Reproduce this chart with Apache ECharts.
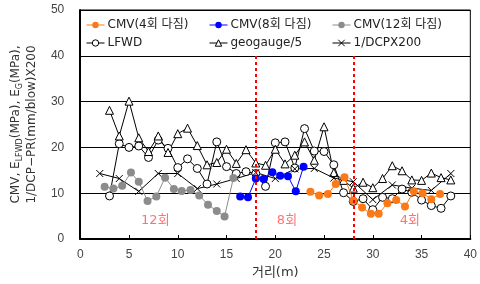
<!DOCTYPE html>
<html>
<head>
<meta charset="utf-8">
<script src="https://cdn.jsdelivr.net/npm/echarts@6/dist/echarts.min.js"></script>
<style>
  html, body { margin: 0; padding: 0; background: #fff; }
  #chart { width: 480px; height: 284px; }
</style>
</head>
<body>
<div id="chart"></div>
<script>
// values
var cmv12X = [2.5, 3.4, 4.3, 5.2, 6.0, 6.9, 7.8, 8.7, 9.6, 10.4, 11.3, 12.2, 13.1, 14.0, 14.8, 15.7];
var cmv12Y = [11.4, 11.0, 11.6, 14.5, 12.5, 8.3, 9.3, 13.4, 10.9, 10.5, 10.7, 9.5, 7.5, 6.1, 4.9, 13.3];

var cmv8X = [16.4, 17.2, 18.0, 18.8, 19.7, 20.5, 21.3, 22.1, 22.9];
var cmv8Y = [9.3, 9.1, 13.2, 13.1, 14.6, 13.8, 13.7, 10.4, 15.8];

var cmv4X = [23.6, 24.5, 25.4, 26.2, 27.1, 28.0, 28.9, 29.8, 30.6, 31.5, 32.4, 33.3, 34.2, 35.1, 36.0, 36.9];
var cmv4Y = [10.3, 9.5, 9.8, 12.0, 13.5, 8.4, 6.9, 5.5, 5.5, 7.8, 8.5, 7.1, 10.4, 10.0, 8.7, 9.8];

var lfwdX = [3, 4, 5, 6, 7, 8, 9, 10, 11, 12, 13, 14, 15, 16, 17, 18, 19, 20, 21, 22,
  23, 24, 25, 26, 27, 28, 29, 30, 31, 32, 33, 34, 35, 36, 37, 38];
var lfwdY = [9.4, 20.8, 20.0, 20.3, 17.8, 21.6, 19.8, 15.6, 17.5, 15.4, 12.0, 21.2, 15.8, 14.3, 14.7, 14.3, 11.5, 21.0, 21.2, 15.5,
  24.1, 19.2, 19.1, 16.2, 10.1, 8.2, 8.8, 6.4, 9.1, 8.8, 10.9, 10.2, 8.5, 7.3, 6.7, 9.4];

var geoX = lfwdX;
var geoY = [28.1, 22.5, 30.1, 22.1, 19.1, 22.5, 18.9, 23.0, 24.2, 20.4, 16.2, 16.7, 19.6, 16.5, 19.5, 16.6, 16.1, 19.6, 16.4, 18.3,
  21.2, 17.2, 24.5, 14.5, 12.8, 11.1, 12.4, 11.2, 13.2, 16.0, 14.9, 12.9, 12.8, 14.4, 13.4, 12.9];

var dcpX = [2, 4, 6, 8, 10, 12, 14, 16, 18, 20, 22, 24, 26, 28, 30, 32, 34, 36, 38];
var dcpY = [14.3, 13.2, 10.4, 14.3, 14.3, 11.0, 12.0, 13.2, 14.5, 13.2, 15.3, 15.4, 13.3, 12.5, 8.6, 11.8, 11.1, 10.6, 14.3];

var zoneNames = ['12회', '8회', '4회'];
var zoneX = [7.7, 21.2, 33.8];
var zoneY = [4.0, 4.0, 4.0];
var boundaryX = [18, 28];

var xTicks = [0, 5, 10, 15, 20, 25, 30, 35, 40];
var yTicks = [0, 10, 20, 30, 40, 50];

var seriesNames = ['CMV(4회 다짐)', 'CMV(8회 다짐)', 'CMV(12회 다짐)', 'LFWD', 'geogauge/5', '1/DCPX200'];

function pairs(xs, ys) {
  return xs.map(function (x, i) { return [x, ys[i]]; });
}

var font = "'Liberation Sans', 'Noto Sans CJK KR', sans-serif";
var wideFont = "'DejaVu Sans', 'Noto Sans CJK KR', sans-serif";
var crossPath = 'path://M0,0L10,10M10,0L0,10';

var myChart = echarts.init(document.getElementById('chart'));

// one legend per entry so the columns line up like the original
var legendLeft = [86, 209, 332, 86, 209, 332];
var legendTop = [19, 19, 19, 37, 37, 37];
var legends = seriesNames.map(function (name, i) {
  return {
    data: [name],
    left: legendLeft[i],
    top: legendTop[i],
    padding: 0,
    itemWidth: 18,
    itemHeight: 8,
    itemGap: 2,
    selectedMode: false,
    itemStyle: { borderWidth: i < 3 ? 0 : 1 },
    lineStyle: { width: 1 },
    textStyle: { fontFamily: wideFont, fontSize: 12, color: '#222', padding: [0, 0, 0, -2] }
  };
});

var option = {
  animation: false,
  backgroundColor: '#fff',
  legend: legends,
  grid: {
    left: 75, right: 7, top: 10, bottom: 44,
    show: true, borderColor: '#000', borderWidth: 1
  },
  xAxis: {
    type: 'value',
    min: xTicks[0],
    max: xTicks[xTicks.length - 1],
    interval: 5,
    name: '거리(m)',
    nameLocation: 'middle',
    nameGap: 27,
    nameTextStyle: { fontFamily: wideFont, fontSize: 13, color: '#333' },
    axisLine: { lineStyle: { color: '#000', width: 2 } },
    axisTick: { inside: true, length: 4, lineStyle: { color: '#000' } },
    axisLabel: { fontFamily: font, fontSize: 12, color: '#444', margin: 10 },
    splitLine: { show: false }
  },
  yAxis: {
    type: 'value',
    min: yTicks[0],
    max: yTicks[yTicks.length - 1],
    interval: 10,
    name: '{a|CMV, E}{s|LFWD}{a|(MPa), E}{s|G}{a|(MPa),}\n{a|1/DCP−PR(mm/blow)X200}',
    nameLocation: 'middle',
    nameGap: 33,
    nameTextStyle: {
      fontFamily: wideFont, color: '#333', lineHeight: 16,
      rich: {
        a: { fontFamily: wideFont, fontSize: 12, color: '#333' },
        s: { fontFamily: wideFont, fontSize: 8, color: '#333', verticalAlign: 'bottom', padding: [4, 0, 0, 0] }
      }
    },
    axisLine: { show: true, lineStyle: { color: '#000', width: 2 } },
    axisTick: { show: false },
    axisLabel: { fontFamily: font, fontSize: 12, color: '#444', margin: 16 },
    splitLine: { lineStyle: { color: '#000', width: 1 } }
  },
  series: [
    {
      name: seriesNames[0], type: 'line', data: pairs(cmv4X, cmv4Y),
      symbol: 'circle', symbolSize: 8, z: 4,
      itemStyle: { color: '#fb7a17', borderWidth: 0 }, lineStyle: { color: '#fb7a17', width: 1 }
    },
    {
      name: seriesNames[1], type: 'line', data: pairs(cmv8X, cmv8Y),
      symbol: 'circle', symbolSize: 8, z: 4,
      itemStyle: { color: '#0000ff', borderWidth: 0 }, lineStyle: { color: '#0000ff', width: 1 }
    },
    {
      name: seriesNames[2], type: 'line', data: pairs(cmv12X, cmv12Y),
      symbol: 'circle', symbolSize: 8, z: 4,
      itemStyle: { color: '#8c8c8c', borderWidth: 0 }, lineStyle: { color: '#8c8c8c', width: 1 }
    },
    {
      name: seriesNames[3], type: 'line', data: pairs(lfwdX, lfwdY),
      symbol: 'circle', symbolSize: 8, z: 3,
      itemStyle: { color: '#fff', borderColor: '#000', borderWidth: 1 }, lineStyle: { color: '#000', width: 1 }
    },
    {
      name: seriesNames[4], type: 'line', data: pairs(geoX, geoY),
      symbol: 'triangle', symbolSize: 8, z: 3,
      itemStyle: { color: '#fff', borderColor: '#000', borderWidth: 1 }, lineStyle: { color: '#000', width: 1 }
    },
    {
      name: seriesNames[5], type: 'line', data: pairs(dcpX, dcpY),
      symbol: crossPath, symbolSize: 7, z: 3,
      itemStyle: { color: '#000', borderColor: '#000', borderWidth: 1 }, lineStyle: { color: '#000', width: 1 }
    },
    {
      name: 'zones', type: 'scatter', symbolSize: 0, z: 5,
      data: zoneNames.map(function (n, i) { return { name: n, value: [zoneX[i], zoneY[i]] }; }),
      label: {
        show: true, position: 'inside', formatter: '{b}',
        fontFamily: wideFont, fontSize: 13, color: '#ff5050'
      },
      markLine: {
        silent: true, symbol: 'none', label: { show: false },
        lineStyle: { color: '#ff0000', width: 2, type: [3, 3] },
        data: boundaryX.map(function (x) { return [{ coord: [x, 0] }, { coord: [x, 40] }]; })
      }
    }
  ]
};

myChart.setOption(option);
</script>
</body>
</html>
